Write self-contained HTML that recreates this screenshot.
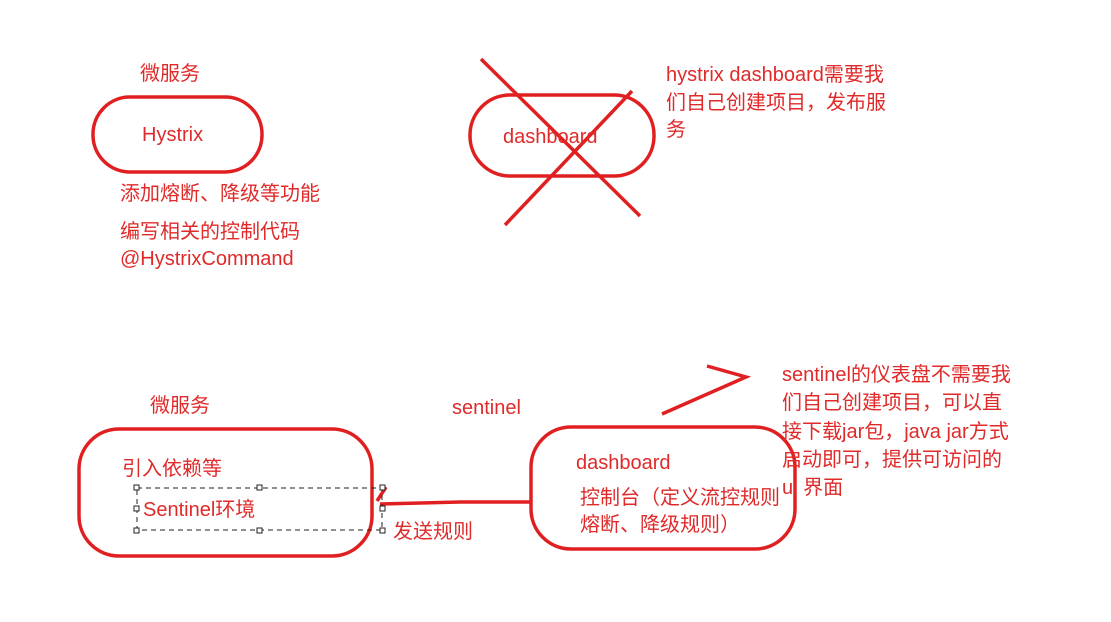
<!DOCTYPE html><html><head><style>body{margin:0;background:#fff}svg text{font-family:"Liberation Sans","Noto Sans CJK SC",sans-serif;fill:#e02a2a;font-size:20px}</style></head><body>
<svg width="1111" height="617" xmlns="http://www.w3.org/2000/svg">
<g fill="none" stroke="#e02020" stroke-width="3.5">
<rect x="93" y="97" width="169" height="75" rx="37"/>
<rect x="470" y="95" width="184" height="81" rx="40"/>
<line x1="481" y1="59" x2="640" y2="216"/>
<line x1="632" y1="91" x2="505" y2="225"/>
<rect x="79" y="429" width="293" height="127" rx="40"/>
<rect x="531" y="427" width="264" height="122" rx="40"/>
<polyline points="530,502 460,502 380,504"/>
<line x1="386" y1="487" x2="377" y2="501"/>
<polyline points="662,414 746,377 707,366"/>
</g>
<g fill="none" stroke="#222" stroke-width="1" stroke-dasharray="5,4">
<rect x="137" y="488" width="245" height="42"/>
</g>
<g fill="#fff" stroke="#222" stroke-width="1">
<rect x="134" y="485" width="5" height="5"/><rect x="257" y="485" width="5" height="5"/><rect x="380" y="485" width="5" height="5"/>
<rect x="134" y="506" width="5" height="5"/><rect x="380" y="506" width="5" height="5"/>
<rect x="134" y="528" width="5" height="5"/><rect x="257" y="528" width="5" height="5"/><rect x="380" y="528" width="5" height="5"/>
</g>
<text x="140" y="80">微服务</text>
<text x="142" y="141">Hystrix</text>
<text x="120" y="200">添加熔断、降级等功能</text>
<text x="120" y="238">编写相关的控制代码</text>
<text x="120" y="265">@HystrixCommand</text>
<text x="503" y="143">dashboard</text>
<text x="666" y="81">hystrix dashboard需要我</text>
<text x="666" y="109">们自己创建项目，发布服</text>
<text x="666" y="136">务</text>
<text x="150" y="412">微服务</text>
<text x="452" y="414">sentinel</text>
<text x="122" y="475">引入依赖等</text>
<text x="143" y="516">Sentinel环境</text>
<text x="393" y="538">发送规则</text>
<text x="576" y="469">dashboard</text>
<text x="580" y="504">控制台（定义流控规则</text>
<text x="580" y="531">熔断、降级规则）</text>
<text x="782" y="381">sentinel的仪表盘不需要我</text>
<text x="782" y="409">们自己创建项目，可以直</text>
<text x="782" y="438">接下载jar包，java jar方式</text>
<text x="782" y="466">启动即可，提供可访问的</text>
<text x="782" y="494">ui 界面</text>
</svg></body></html>
